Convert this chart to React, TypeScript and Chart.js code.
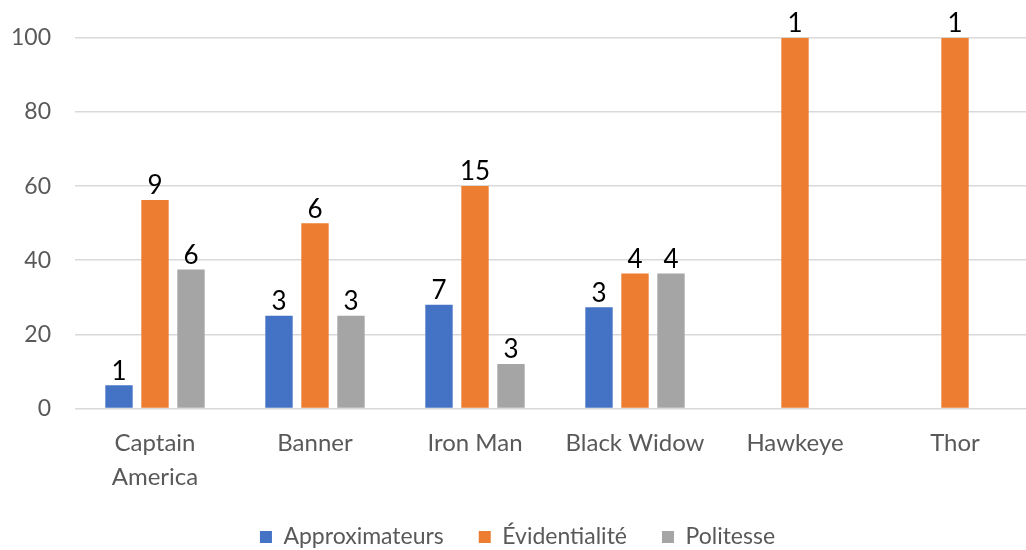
import React, { useEffect, useRef } from "react";
import { Chart, registerables } from "chart.js";

Chart.register(...registerables);

const categories: (string | string[])[] = [
  ["Captain", "America"],
  "Banner",
  "Iron Man",
  "Black Widow",
  "Hawkeye",
  "Thor",
];

const approximateurs: (number | null)[] = [6.25, 25, 28, 27.3, null, null];
const evidentialite: (number | null)[] = [56.25, 50, 60, 36.4, 100, 100];
const politesse: (number | null)[] = [37.5, 25, 12, 36.4, null, null];

const approximateursCounts: (number | null)[] = [1, 3, 7, 3, null, null];
const evidentialiteCounts: (number | null)[] = [9, 6, 15, 4, 1, 1];
const politesseCounts: (number | null)[] = [6, 3, 3, 4, null, null];

const yTicks = { min: 0, max: 100, step: 20 };

const FONT = "Lato, 'Open Sans', sans-serif";

const countLabels = [approximateursCounts, evidentialiteCounts, politesseCounts];

const dataLabelPlugin = {
  id: "countLabels",
  afterDatasetsDraw(chart: any) {
    const ctx = chart.ctx;
    ctx.save();
    ctx.font = `26px ${FONT}`;
    ctx.fillStyle = "#000000";
    ctx.textAlign = "center";
    ctx.textBaseline = "bottom";
    chart.data.datasets.forEach((_ds: any, di: number) => {
      const meta = chart.getDatasetMeta(di);
      meta.data.forEach((el: any, i: number) => {
        const v = countLabels[di][i];
        if (v === null || v === undefined) return;
        ctx.fillText(String(v), el.x, el.y - 1);
      });
    });
    ctx.restore();
  },
};

export default function App() {
  const canvasRef = useRef<HTMLCanvasElement | null>(null);

  useEffect(() => {
    if (!canvasRef.current) return;
    const chart = new Chart(canvasRef.current, {
      type: "bar",
      data: {
        labels: categories,
        datasets: [
          {
            label: "Approximateurs",
            data: approximateurs,
            backgroundColor: "#4472C4",
            categoryPercentage: 0.675,
            barPercentage: 0.76,
          },
          {
            label: "Évidentialité",
            data: evidentialite,
            backgroundColor: "#ED7D31",
            categoryPercentage: 0.675,
            barPercentage: 0.76,
          },
          {
            label: "Politesse",
            data: politesse,
            backgroundColor: "#A5A5A5",
            categoryPercentage: 0.675,
            barPercentage: 0.76,
          },
        ],
      },
      options: {
        animation: false,
        responsive: true,
        maintainAspectRatio: false,
        layout: { padding: { top: 36, right: 35, left: 0, bottom: -8.5 } },
        plugins: {
          tooltip: { enabled: false },
          legend: {
            position: "bottom",
            labels: {
              boxWidth: 12,
              boxHeight: 12,
              padding: 35,
              color: "#595959",
              font: { family: FONT, size: 23, lineHeight: 1 },
            },
          },
        },
        scales: {
          x: {
            grid: { display: false },
            border: { display: false },
            ticks: {
              color: "#595959",
              padding: 10,
              maxRotation: 0,
              autoSkip: false,
              font: { family: FONT, size: 24, lineHeight: 1.4 },
            },
            afterFit(scale: any) {
              scale.height = 82;
            },
          },
          y: {
            min: yTicks.min,
            max: yTicks.max,
            border: { display: false },
            grid: { color: "#D9D9D9", lineWidth: 1.5, drawTicks: false },
            ticks: {
              stepSize: yTicks.step,
              color: "#595959",
              padding: 24,
              font: { family: FONT, size: 23 },
            },
            afterFit(scale: any) {
              scale.width = 75;
            },
          },
        },
      },
      plugins: [dataLabelPlugin],
    });
    return () => chart.destroy();
  }, []);

  return (
    <div
      style={{
        position: "fixed",
        left: 0,
        top: 0,
        width: 1026,
        height: 550,
        overflow: "hidden",
        background: "#ffffff",
      }}
    >
      <div style={{ position: "relative", width: 1070, height: 550 }}>
        <canvas ref={canvasRef} />
      </div>
    </div>
  );
}
